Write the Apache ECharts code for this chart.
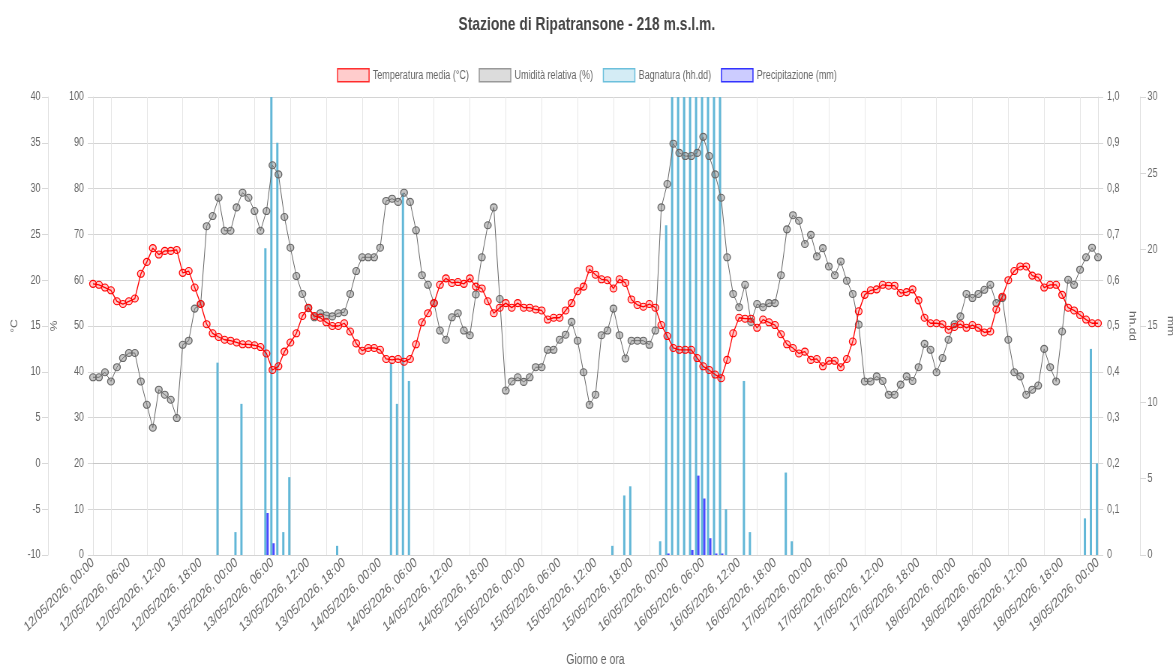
<!DOCTYPE html>
<html>
<head>
<meta charset="utf-8">
<title>Stazione di Ripatransone</title>
<script src="https://cdn.jsdelivr.net/npm/echarts@6/dist/echarts.min.js"></script>
<style>
    html, body { margin: 0; padding: 0; background: #fff; overflow: hidden; }
    #box { width: 1174px; height: 671px; overflow: hidden; }
    /* il grafico originale è più largo e compresso in orizzontale */
    #main { width: 1565px; height: 671px; transform: scaleX(0.75); transform-origin: 0 0; }
</style>
</head>
<body>
<div id="box"><div id="main"></div></div>
<script>
// dati orari dal 12/05/2026 00:00 al 19/05/2026 00:00
var temperatura = [
    19.6, 19.5, 19.2, 18.9, 17.7, 17.4, 17.7, 18.0, 20.7, 22.0, 23.5, 22.8,
    23.2, 23.2, 23.3, 20.8, 21.0, 19.2, 17.4, 15.2, 14.2, 13.8, 13.5, 13.4,
    13.2, 13.0, 13.0, 12.9, 12.7, 12.0, 10.2, 10.6, 12.2, 13.2, 14.2, 16.1,
    17.0, 16.1, 15.9, 15.4, 15.0, 15.0, 15.3, 14.4, 13.1, 12.3, 12.6, 12.6,
    12.4, 11.4, 11.3, 11.4, 11.1, 11.4, 13.0, 15.4, 16.4, 17.5, 19.5, 20.2,
    19.7, 19.8, 19.6, 20.2, 19.3, 19.1, 17.7, 16.4, 17.0, 17.5, 17.0, 17.5,
    17.0, 17.0, 16.8, 16.7, 15.7, 15.9, 15.9, 16.7, 17.5, 18.8, 19.3, 21.2,
    20.6, 20.1, 20.0, 19.1, 20.1, 19.7, 17.9, 17.3, 17.1, 17.4, 17.0, 15.1,
    13.9, 12.6, 12.4, 12.4, 12.4, 11.5, 10.6, 10.2, 9.7, 9.3, 11.3, 14.2,
    15.9, 15.8, 15.8, 14.8, 15.7, 15.4, 15.1, 14.1, 13.0, 12.6, 12.0, 12.2,
    11.3, 11.4, 10.6, 11.2, 11.2, 10.5, 11.4, 13.3, 16.6, 18.4, 18.9, 19.0,
    19.5, 19.4, 19.4, 18.6, 18.7, 19.0, 17.8, 15.9, 15.3, 15.3, 15.2, 14.6,
    14.9, 15.2, 14.8, 15.1, 14.8, 14.3, 14.4, 16.8, 18.2, 20.0, 21.0, 21.5,
    21.5, 20.5, 20.3, 19.2, 19.5, 19.5, 18.4, 17.0, 16.7, 16.2, 15.7, 15.3, 15.3
];

var umidita = [
    38.8, 38.8, 39.9, 37.9, 41.0, 43.0, 44.1, 44.1, 37.9, 32.8, 27.8, 36.1,
    35.0, 33.9, 29.9, 45.9, 46.8, 53.8, 54.8, 71.8, 74.0, 78.0, 70.8, 70.8,
    75.9, 79.1, 78.0, 75.1, 70.8, 75.1, 85.1, 83.1, 73.8, 67.1, 60.9, 57.0,
    53.9, 51.9, 52.8, 52.3, 52.1, 52.8, 53.0, 57.0, 62.0, 65.0, 65.0, 65.0,
    67.1, 77.3, 77.8, 77.1, 79.1, 77.1, 70.9, 61.1, 59.0, 55.0, 49.0, 47.0,
    51.9, 52.8, 49.0, 48.0, 56.9, 65.0, 72.0, 75.9, 55.9, 35.9, 37.9, 38.8,
    37.8, 38.8, 41.0, 41.0, 44.8, 44.8, 47.0, 48.1, 50.9, 46.8, 39.9, 32.8,
    35.0, 48.0, 49.0, 53.8, 48.0, 42.9, 46.8, 46.8, 46.8, 45.9, 49.0, 75.9,
    81.0, 89.8, 87.8, 87.1, 87.1, 87.8, 91.3, 87.1, 83.1, 78.0, 65.0, 57.0,
    54.1, 59.0, 50.9, 54.8, 54.1, 55.0, 55.0, 61.1, 71.1, 74.2, 73.0, 67.9,
    69.9, 65.2, 67.0, 63.0, 61.1, 64.1, 59.9, 57.0, 50.3, 37.9, 37.9, 39.0,
    38.0, 35.0, 35.0, 37.2, 39.0, 38.0, 41.0, 46.1, 44.8, 39.9, 43.0, 47.0,
    50.4, 52.1, 57.0, 56.1, 57.0, 57.9, 59.0, 55.0, 56.1, 47.0, 39.9, 39.0,
    35.0, 36.1, 37.0, 45.0, 41.0, 37.9, 48.8, 60.1, 59.0, 62.3, 65.0, 67.1, 65.0
];

var bagnatura = [
    0, 0, 0, 0, 0, 0, 0, 0, 0, 0, 0, 0,
    0, 0, 0, 0, 0, 0, 0, 0, 0, 0.42, 0, 0,
    0.05, 0.33, 0, 0, 0, 0.67, 1.0, 0.90, 0.05, 0.17, 0, 0,
    0, 0, 0, 0, 0, 0.02, 0, 0, 0, 0, 0, 0,
    0, 0, 0.42, 0.33, 0.79, 0.38, 0, 0, 0, 0, 0, 0,
    0, 0, 0, 0, 0, 0, 0, 0, 0, 0, 0, 0,
    0, 0, 0, 0, 0, 0, 0, 0, 0, 0, 0, 0,
    0, 0, 0, 0.02, 0, 0.13, 0.15, 0, 0, 0, 0, 0.03,
    0.72, 1.0, 1.0, 1.0, 1.0, 1.0, 1.0, 1.0, 1.0, 1.0, 0.10, 0,
    0, 0.38, 0.05, 0, 0, 0, 0, 0, 0.18, 0.03, 0, 0,
    0, 0, 0, 0, 0, 0, 0, 0, 0, 0, 0, 0,
    0, 0, 0, 0, 0, 0, 0, 0, 0, 0, 0, 0,
    0, 0, 0, 0, 0, 0, 0, 0, 0, 0, 0, 0,
    0, 0, 0, 0, 0, 0, 0, 0, 0, 0, 0.08, 0.45, 0.20
];

var precipitazione = [
    0, 0, 0, 0, 0, 0, 0, 0, 0, 0, 0, 0,
    0, 0, 0, 0, 0, 0, 0, 0, 0, 0, 0, 0,
    0, 0, 0, 0, 0, 2.75, 0.77, 0, 0, 0, 0, 0,
    0, 0, 0, 0, 0, 0, 0, 0, 0, 0, 0, 0,
    0, 0, 0, 0, 0, 0, 0, 0, 0, 0, 0, 0,
    0, 0, 0, 0, 0, 0, 0, 0, 0, 0, 0, 0,
    0, 0, 0, 0, 0, 0, 0, 0, 0, 0, 0, 0,
    0, 0, 0, 0, 0, 0, 0, 0, 0, 0, 0, 0,
    0.1, 0, 0, 0, 0.33, 5.2, 3.7, 1.1, 0.1, 0.1, 0, 0,
    0, 0, 0, 0, 0, 0, 0, 0, 0, 0, 0, 0,
    0, 0, 0, 0, 0, 0, 0, 0, 0, 0, 0, 0,
    0, 0, 0, 0, 0, 0, 0, 0, 0, 0, 0, 0,
    0, 0, 0, 0, 0, 0, 0, 0, 0, 0, 0, 0,
    0, 0, 0, 0, 0, 0, 0, 0, 0, 0, 0, 0, 0
];

var giorni = ['12/05/2026', '13/05/2026', '14/05/2026', '15/05/2026', '16/05/2026', '17/05/2026', '18/05/2026', '19/05/2026'];

// etichette orarie "gg/mm/aaaa, hh:00"
var orari = [];
for (var i = 0; i < temperatura.length; i++) {
    var ora = i % 24;
    orari.push(giorni[Math.floor(i / 24)] + ', ' + (ora < 10 ? '0' : '') + ora + ':00');
}

var font = "'Liberation Sans', Arial, sans-serif";
var grigio = '#666';

// griglia verticale a metà tra le etichette (ogni 6 ore, sfasata di 3)
function metaIntervallo(index) {
    return index % 6 === 3;
}

var myChart = echarts.init(document.getElementById('main'));

var option = {
    animation: false,
    textStyle: { fontFamily: font },
    title: {
        text: 'Stazione di Ripatransone - 218 m.s.l.m.',
        left: 'center',
        top: 10,
        textStyle: { fontFamily: font, fontSize: 18.5, fontWeight: 'bold', color: '#444' }
    },
    legend: {
        top: 63,
        left: 'center',
        icon: 'rect',
        itemWidth: 42,
        itemHeight: 13,
        itemGap: 13,
        textStyle: { fontFamily: font, fontSize: 12, color: grigio },
        data: [
            { name: 'Temperatura media (°C)', itemStyle: { color: 'rgba(255,0,0,0.2)', borderColor: 'rgba(255,0,0,0.8)', borderWidth: 1.5 } },
            { name: 'Umidità relativa (%)', itemStyle: { color: '#dcdcdc', borderColor: '#999', borderWidth: 1.5 } },
            { name: 'Bagnatura (hh.dd)', itemStyle: { color: '#d4ecf5', borderColor: '#6cc0dc', borderWidth: 1.5 } },
            { name: 'Precipitazione (mm)', itemStyle: { color: '#ccccff', borderColor: '#3333ff', borderWidth: 1.5 } }
        ]
    },
    grid: { left: 124, right: 101, top: 97, bottom: 116, containLabel: false, outerBoundsMode: 'none' },
    xAxis: {
        type: 'category',
        data: orari,
        boundaryGap: false,
        name: 'Giorno e ora',
        nameLocation: 'middle',
        nameGap: 98,
        nameTextStyle: { fontFamily: font, fontSize: 14, color: grigio },
        axisLine: { lineStyle: { color: '#c8c8c8' } },
        axisTick: { show: true, interval: metaIntervallo, length: 9, lineStyle: { color: '#e6e6e6' } },
        axisLabel: { interval: 5, rotate: 37, margin: 6, fontFamily: font, fontSize: 14, color: grigio },
        splitLine: { show: true, interval: metaIntervallo, lineStyle: { color: '#e6e6e6' } }
    },
    yAxis: [{
        type: 'value',
        name: '°C',
        position: 'left',
        offset: 60,
        min: -10,
        max: 40,
        interval: 5,
        nameLocation: 'middle',
        nameRotate: 90,
        nameGap: 37,
        nameTextStyle: { fontFamily: font, fontSize: 12, color: grigio },
        axisLine: { show: true, lineStyle: { color: '#e0e0e0' } },
        axisTick: { show: true, length: 8, lineStyle: { color: '#d8d8d8' } },
        axisLabel: { margin: 10, fontFamily: font, fontSize: 12, color: grigio },
        splitLine: { show: false }
    }, {
        type: 'value',
        name: '%',
        position: 'left',
        min: 0,
        max: 100,
        interval: 10,
        nameLocation: 'middle',
        nameRotate: 90,
        nameGap: 45,
        nameTextStyle: { fontFamily: font, fontSize: 12, color: grigio },
        axisLine: { show: true, lineStyle: { color: '#e0e0e0' } },
        axisTick: { show: true, length: 7, lineStyle: { color: '#d8d8d8' } },
        axisLabel: { margin: 12, fontFamily: font, fontSize: 12, color: grigio },
        splitLine: { show: true, lineStyle: { color: '#d4d4d4' } }
    }, {
        type: 'value',
        name: 'hh.dd',
        position: 'right',
        min: 0,
        max: 1,
        interval: 0.1,
        nameLocation: 'middle',
        nameRotate: -90,
        nameGap: 39,
        nameTextStyle: { fontFamily: font, fontSize: 12, color: grigio },
        axisLine: { show: true, lineStyle: { color: '#e0e0e0' } },
        axisTick: { show: true, length: 7, lineStyle: { color: '#d8d8d8' } },
        axisLabel: {
            margin: 12, fontFamily: font, fontSize: 12, color: grigio,
            formatter: function (v) {
                return v === 0 ? '0' : v.toFixed(1).replace('.', ',');
            }
        },
        splitLine: { show: false }
    }, {
        type: 'value',
        name: 'mm',
        position: 'right',
        offset: 56,
        min: 0,
        max: 30,
        interval: 5,
        nameLocation: 'middle',
        nameRotate: -90,
        nameGap: 33,
        nameTextStyle: { fontFamily: font, fontSize: 12, color: grigio },
        axisLine: { show: true, lineStyle: { color: '#e0e0e0' } },
        axisTick: { show: true, length: 8, lineStyle: { color: '#d8d8d8' } },
        axisLabel: { margin: 10, fontFamily: font, fontSize: 12, color: grigio },
        splitLine: { show: false }
    }],
    series: [{
        name: 'Temperatura media (°C)',
        type: 'line',
        yAxisIndex: 0,
        data: temperatura,
        z: 4,
        symbol: 'circle',
        symbolSize: [9, 7],
        showAllSymbol: true,
        lineStyle: { color: '#ff0000', width: 1.3 },
        itemStyle: { color: 'rgba(255,0,0,0.2)', borderColor: '#ff0000', borderWidth: 1.2 }
    }, {
        name: 'Umidità relativa (%)',
        type: 'line',
        yAxisIndex: 1,
        data: umidita,
        z: 3,
        symbol: 'circle',
        symbolSize: [9, 7],
        showAllSymbol: true,
        lineStyle: { color: '#666', width: 1 },
        itemStyle: { color: 'rgba(128,128,128,0.45)', borderColor: '#666', borderWidth: 1.2 }
    }, {
        name: 'Bagnatura (hh.dd)',
        type: 'bar',
        yAxisIndex: 2,
        data: bagnatura,
        z: 2,
        barWidth: 3,
        barGap: '0%',
        itemStyle: { color: '#62b7d7' }
    }, {
        name: 'Precipitazione (mm)',
        type: 'bar',
        yAxisIndex: 3,
        data: precipitazione,
        z: 2,
        barWidth: 3,
        barGap: '0%',
        itemStyle: { color: '#4a4aff' }
    }]
};

myChart.setOption(option);
</script>
</body>
</html>
